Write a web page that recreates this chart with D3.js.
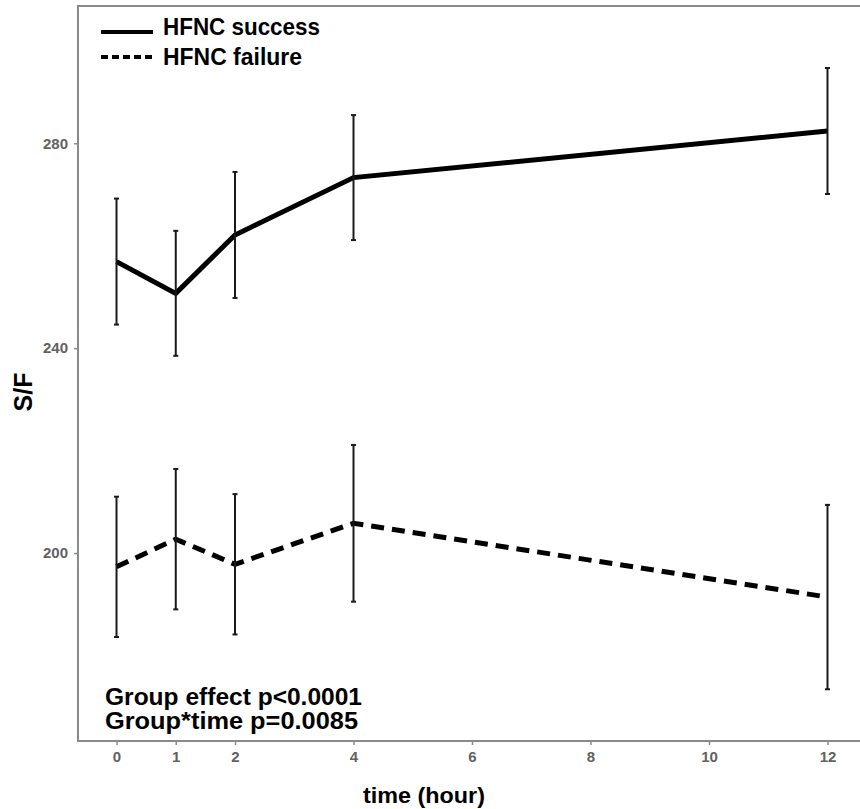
<!DOCTYPE html>
<html>
<head>
<meta charset="utf-8">
<script src="https://cdn.jsdelivr.net/npm/d3@7"></script>
<style>
  body { margin: 0; background: #fff; }
  svg { display: block; }
</style>
</head>
<body>
<div id="chart"></div>
<script>
// time points (hour)
const hours = [0, 1, 2, 4, 12];
// S/F means and error bar half-widths
const successMean = [256.9, 250.7, 262.1, 273.3, 282.4];
const successErr = [12.3, 12.2, 12.3, 12.2, 12.3];
const failureMean = [197.3, 202.7, 197.8, 205.8, 191.4];
const failureErr = [13.7, 13.7, 13.7, 15.3, 18.0];

const xTicks = [0, 1, 2, 4, 6, 8, 10, 12];
const yTicks = [200, 240, 280];
const legendLabels = [`HFNC success`, `HFNC failure`];
const noteLines = [`Group effect p<0.0001`, `Group*time p=0.0085`];

const WIDTH = 860, HEIGHT = 809;
const FONT = `"Liberation Sans", Arial, sans-serif`;
const panel = {left: 78, top: 6, right: 866, bottom: 741};

let svg = d3.select(`#chart`).append(`svg`)
  .attr(`width`, WIDTH)
  .attr(`height`, HEIGHT);

let x = d3.scaleLinear().domain([-0.65, 12.65]).range([panel.left, panel.right]);
let y = d3.scaleLinear().domain([163.3, 306.8]).range([panel.bottom, panel.top]);

// panel frame
svg.append(`rect`)
  .attr(`x`, panel.left)
  .attr(`y`, panel.top)
  .attr(`width`, panel.right - panel.left)
  .attr(`height`, panel.bottom - panel.top)
  .attr(`fill`, `none`)
  .attr(`stroke`, `#8a8a8a`)
  .attr(`stroke-width`, 2);

// axes
let xAxis = svg.append(`g`)
  .attr(`transform`, `translate(0,${panel.bottom})`)
  .call(d3.axisBottom(x).tickValues(xTicks).tickSize(4).tickPadding(6));
let yAxis = svg.append(`g`)
  .attr(`transform`, `translate(${panel.left},0)`)
  .call(d3.axisLeft(y).tickValues(yTicks).tickSize(4).tickPadding(6));
[xAxis, yAxis].forEach(ax => {
  ax.select(`.domain`).remove();
  ax.selectAll(`line`).attr(`stroke`, `#8a8a8a`).attr(`stroke-width`, 1.5);
  ax.selectAll(`text`)
    .attr(`fill`, `#626262`)
    .style(`font-family`, FONT)
    .style(`font-size`, `15px`)
    .style(`font-weight`, `bold`);
});

// series
let series = [
  {mean: successMean, err: successErr, dash: null},
  {mean: failureMean, err: failureErr, dash: `13,8`},
];

let line = d3.line()
  .x(d => x(d.h))
  .y(d => y(d.v));

series.forEach(s => {
  let pts = hours.map((h, i) => ({h: h, v: s.mean[i], e: s.err[i]}));

  svg.append(`path`)
    .datum(pts)
    .attr(`d`, line)
    .attr(`fill`, `none`)
    .attr(`stroke`, `#000`)
    .attr(`stroke-width`, 5)
    .attr(`stroke-dasharray`, s.dash);

  let bars = svg.append(`g`).selectAll(`g`).data(pts).join(`g`);
  bars.append(`line`)
    .attr(`x1`, d => x(d.h)).attr(`x2`, d => x(d.h))
    .attr(`y1`, d => y(d.v + d.e)).attr(`y2`, d => y(d.v - d.e))
    .attr(`stroke`, `#1a1a1a`).attr(`stroke-width`, 2);
  [1, -1].forEach(sign => {
    bars.append(`line`)
      .attr(`x1`, d => x(d.h) - 2.5).attr(`x2`, d => x(d.h) + 2.5)
      .attr(`y1`, d => y(d.v + sign * d.e)).attr(`y2`, d => y(d.v + sign * d.e))
      .attr(`stroke`, `#1a1a1a`).attr(`stroke-width`, 2);
  });
});

// legend
let legendWidths = [157, 139];
let legend = svg.append(`g`);
legendLabels.forEach((label, i) => {
  let ly = 32 + i * 25;
  legend.append(`line`)
    .attr(`x1`, 101).attr(`x2`, 153)
    .attr(`y1`, ly).attr(`y2`, ly)
    .attr(`stroke`, `#000`)
    .attr(`stroke-width`, 4)
    .attr(`stroke-dasharray`, i === 0 ? null : `7,4`);
  legend.append(`text`)
    .attr(`x`, 163).attr(`y`, ly + 3 + i * 5)
    .attr(`textLength`, legendWidths[i])
    .attr(`lengthAdjust`, `spacingAndGlyphs`)
    .text(label)
    .style(`font-family`, FONT)
    .style(`font-size`, `24px`)
    .style(`font-weight`, `bold`);
});

// p-value note
let noteWidths = [257, 253];
noteLines.forEach((t, i) => {
  svg.append(`text`)
    .attr(`x`, 105).attr(`y`, 705 + i * 24)
    .attr(`textLength`, noteWidths[i])
    .attr(`lengthAdjust`, `spacingAndGlyphs`)
    .text(t)
    .style(`font-family`, FONT)
    .style(`font-size`, `24px`)
    .style(`font-weight`, `bold`);
});

// axis titles
svg.append(`text`)
  .attr(`x`, 424).attr(`y`, 803)
  .attr(`text-anchor`, `middle`)
  .attr(`textLength`, 122)
  .attr(`lengthAdjust`, `spacingAndGlyphs`)
  .text(`time (hour)`)
  .style(`font-family`, FONT)
  .style(`font-size`, `22px`)
  .style(`font-weight`, `bold`);

svg.append(`text`)
  .attr(`transform`, `translate(32,392) rotate(-90)`)
  .attr(`text-anchor`, `middle`)
  .text(`S/F`)
  .style(`font-family`, FONT)
  .style(`font-size`, `25px`)
  .style(`font-weight`, `bold`);
</script>
</body>
</html>
